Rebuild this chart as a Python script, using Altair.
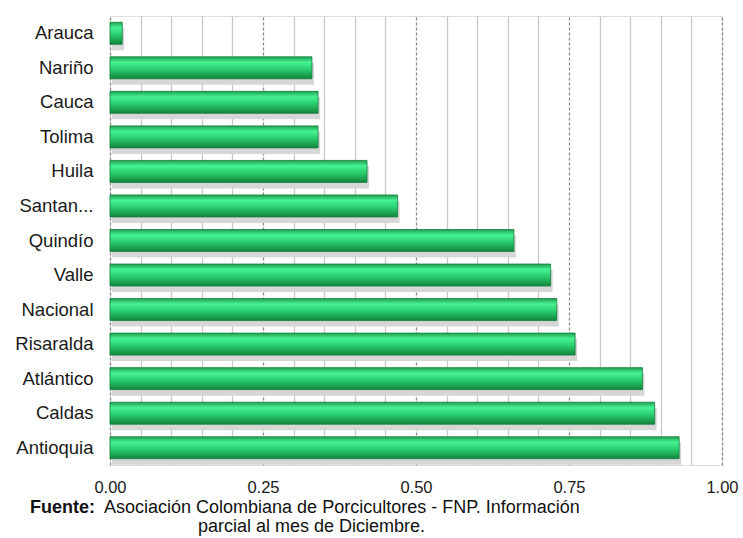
import altair as alt
import pandas as pd

regions = ["Arauca", "Nariño", "Cauca", "Tolima", "Huila", "Santan...", "Quindío",
           "Valle", "Nacional ", "Risaralda", "Atlántico", "Caldas", "Antioquia"]
values = [0.02, 0.33, 0.34, 0.34, 0.42, 0.47, 0.66, 0.72, 0.73, 0.76, 0.87, 0.89, 0.93]
grid_values = [round(i * 0.05, 2) for i in range(21)]
source_bold = "Fuente:"
source_line1 = "Asociación Colombiana de Porcicultores - FNP. Información"
source_line2 = "parcial al mes de Diciembre."

df = pd.DataFrame({"region": regions, "value": values})
one = pd.DataFrame({"k": [0]})

FONT = "Liberation Sans"

x_enc = alt.X(
    "value:Q",
    scale=alt.Scale(domain=[0, 1], nice=False, zero=True),
    axis=alt.Axis(
        values=grid_values,
        labelExpr="round(datum.value*100) % 25 == 0 ? format(datum.value, '.2f') : ''",
        grid=True,
        gridColor={"condition": {"test": "round(datum.value*100) % 25 == 0", "value": "#8a8a8a"}, "value": "#c8c8c8"},
        gridDash={"condition": {"test": "round(datum.value*100) % 25 == 0", "value": [3, 2]}, "value": []},
        gridWidth=1.3,
        ticks=False,
        domain=False,
        labelFont=FONT,
        labelFontSize=16.5,
        labelColor="#1a1a1a",
        labelPadding=14,
        labelFlush=False,
        title=None,
    ),
)
y_enc = alt.Y(
    "region:N",
    sort=regions,
    scale=alt.Scale(paddingInner=0.36, paddingOuter=0.18),
    axis=alt.Axis(
        ticks=False,
        domain=False,
        grid=False,
        labelFont=FONT,
        labelFontSize=18.5,
        labelColor="#1a1a1a",
        labelPadding=17,
        labelLimit=200,
        title=None,
    ),
)

shadow = alt.Chart(df).mark_bar(color="#d6d6d6", size=22, yOffset=6, xOffset=2).encode(x=x_enc, y=y_enc)

green = alt.Gradient(
    gradient="linear",
    x1=0, y1=0, x2=0, y2=1,
    stops=[
        alt.GradientStop(offset=0, color="#1f9f50"),
        alt.GradientStop(offset=0.25, color="#46f294"),
        alt.GradientStop(offset=0.55, color="#2bd06f"),
        alt.GradientStop(offset=1, color="#11853c"),
    ],
)
bars = alt.Chart(df).mark_bar(fill=green, stroke="#138040", strokeWidth=0.8, size=22).encode(x=x_enc, y=y_enc)

note1 = alt.Chart(one).mark_text(
    text=source_bold, font=FONT, fontSize=18, fontWeight="bold", align="left", baseline="middle", color="#111111"
).encode(x=alt.value(-80), y=alt.value(492))
note2 = alt.Chart(one).mark_text(
    text=source_line1, font=FONT, fontSize=18, align="left", baseline="middle", color="#111111"
).encode(x=alt.value(-6), y=alt.value(492))
note3 = alt.Chart(one).mark_text(
    text=source_line2, font=FONT, fontSize=18, align="left", baseline="middle", color="#111111"
).encode(x=alt.value(88), y=alt.value(511))

chart = alt.layer(shadow, bars, note1, note2, note3).properties(
    width=612,
    height=449,
    autosize=alt.AutoSizeParams(type="none"),
    padding={"left": 110, "top": 16, "right": 21, "bottom": 73},
).configure_view(stroke="#b0b0b0", strokeWidth=1.5).configure(background="white")

chart.save("out.html", embed_options={"renderer": "svg", "actions": False})
